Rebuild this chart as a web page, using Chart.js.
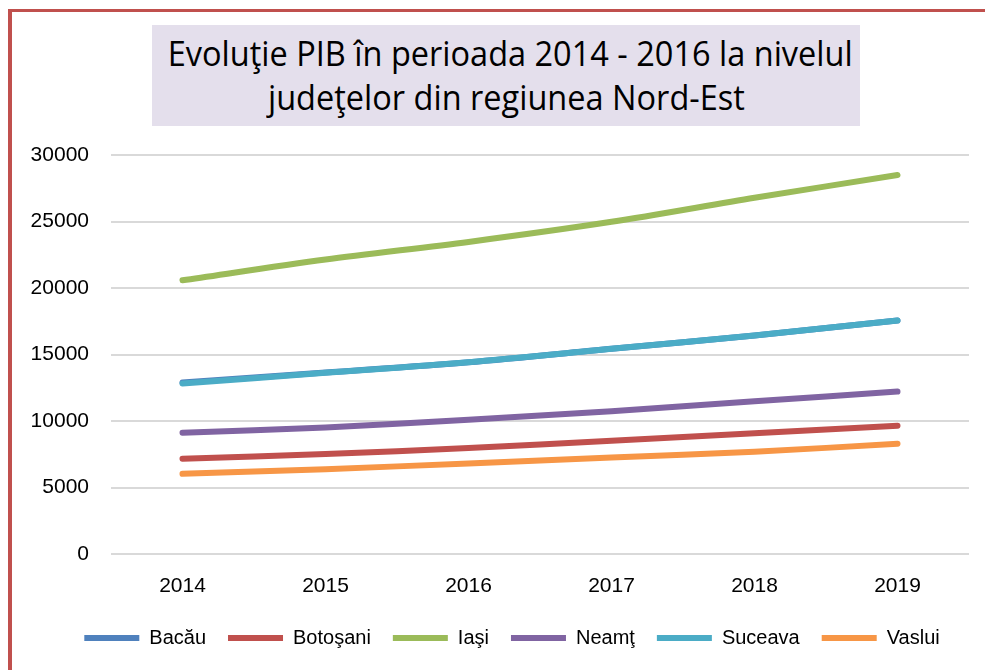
<!DOCTYPE html>
<html>
<head>
<meta charset="utf-8">
<script src="https://cdn.jsdelivr.net/npm/chart.js@4"></script>
<style>
  html, body { margin: 0; padding: 0; background: #fff; }
  #wrap { position: relative; width: 985px; height: 670px; overflow: hidden; }
  #frame {
    position: absolute; left: 8px; top: 9px; right: -10px; bottom: -10px;
    border-left: 4px solid #c0504d; border-top: 3px solid #c0504d;
  }
  #title {
    position: absolute; left: 152px; top: 25px; width: 708px; height: 101px;
    background: #e4dfec; color: #000; text-align: center;
    font-family: "Open Sans", sans-serif;
    font-size: 34px; line-height: 44px; padding-top: 6px; box-sizing: border-box;
    white-space: nowrap;
  }
  #title span { display: inline-block; transform-origin: center; }
  canvas { position: absolute; left: 0; top: 0; }
</style>
</head>
<body>
<div id="wrap">
  <canvas id="chartPib" width="985" height="670"></canvas>
  <div id="frame"></div>
  <div id="title"><div><span id="t1">Evoluţie PIB în perioada 2014 - 2016 la nivelul</span></div><div><span id="t2">judeţelor din regiunea Nord-Est</span></div></div>
</div>
<script>
const ani = ["2014", "2015", "2016", "2017", "2018", "2019"];
const bacau = [12900, 13650, 14420, 15427, 16432, 17560];
const botosani = [7160, 7515, 7965, 8518, 9070, 9648];
const iasi = [20578, 22140, 23465, 24975, 26784, 28492];
const neamt = [9120, 9520, 10100, 10730, 11482, 12211];
const suceava = [12820, 13620, 14420, 15427, 16432, 17560];
const vaslui = [6030, 6380, 6808, 7261, 7688, 8290];

document.addEventListener("DOMContentLoaded", function () {
    // titlul: fontul Calibri lipseste, asa ca il ingustam pe orizontala
    const t1 = document.getElementById("t1");
    const t2 = document.getElementById("t2");
    const k = 685 / t1.getBoundingClientRect().width;
    t1.style.transform = "scaleX(" + k + ")";
    t2.style.transform = "scaleX(" + k + ")";

    const ctx = document.getElementById("chartPib").getContext("2d");
    const fontFam = "'Liberation Sans', Arial, sans-serif";

    // order negativ: seriile de la final se deseneaza deasupra, ca in Excel
    function serie(label, data, color, idx) {
        return {
            label: label,
            data: data,
            order: -idx,
            borderColor: color,
            backgroundColor: color,
            borderWidth: 6,
            borderCapStyle: "round",
            borderJoinStyle: "round",
            pointRadius: 0,
            tension: 0.3,
        };
    }

    // legenda e centrata putin mai la dreapta in original
    const mutaLegenda = {
        id: "mutaLegenda",
        afterLayout: function (chart) {
            chart.legend.left += 55;
        },
    };

    new Chart(ctx, {
        type: "line",
        data: {
            labels: ani,
            datasets: [
                serie("Bacău", bacau, "#4f81bd", 0),
                serie("Botoşani", botosani, "#c0504d", 1),
                serie("Iaşi", iasi, "#9bbb59", 2),
                serie("Neamţ", neamt, "#8064a2", 3),
                serie("Suceava", suceava, "#4bacc6", 4),
                serie("Vaslui", vaslui, "#f79646", 5),
            ],
        },
        options: {
            responsive: false,
            animation: false,
            layout: {
                padding: { left: 0, right: 16, top: 155, bottom: 12 },
            },
            scales: {
                x: {
                    offset: true,
                    grid: { display: false },
                    border: { display: false },
                    ticks: { color: "#000", padding: 12, font: { family: fontFam, size: 21 } },
                    afterFit: function (scale) { scale.height = 52; },
                },
                y: {
                    min: 0,
                    max: 30000,
                    ticks: {
                        stepSize: 5000,
                        color: "#000",
                        padding: 22,
                        font: { family: fontFam, size: 21 },
                        callback: function (v) { return String(v); },
                    },
                    grid: { color: "#d9d9d9", lineWidth: 2, drawTicks: false },
                    border: { display: false },
                    afterFit: function (scale) { scale.width = 111; },
                },
            },
            plugins: {
                legend: {
                    position: "bottom",
                    labels: {
                        color: "#000",
                        font: { family: fontFam, size: 20 },
                        usePointStyle: true,
                        pointStyle: "line",
                        pointStyleWidth: 55,
                        boxHeight: 5,
                        padding: 22,
                        sort: function (a, b) { return a.datasetIndex - b.datasetIndex; },
                    },
                },
                title: { display: false },
                tooltip: { enabled: false },
            },
        },
        plugins: [mutaLegenda],
    });
});
</script>
</body>
</html>
